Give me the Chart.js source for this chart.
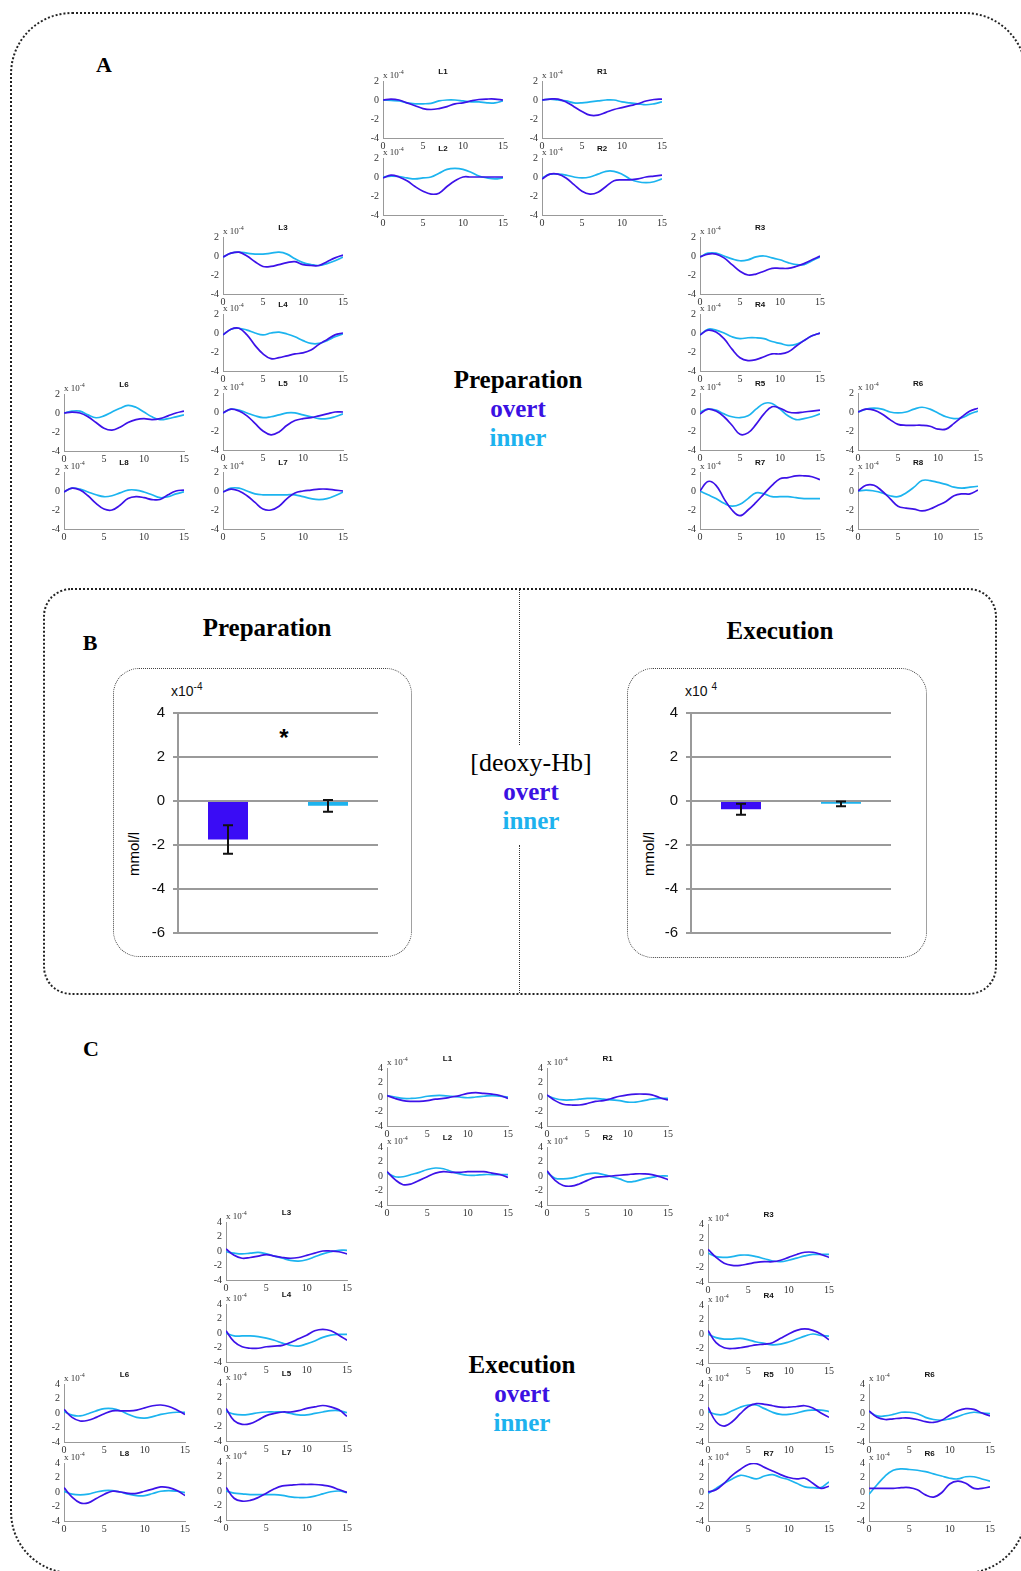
<!DOCTYPE html>
<html>
<head>
<meta charset="utf-8">
<script src="https://cdn.jsdelivr.net/npm/chart.js@4"></script>
<style>
  body { margin: 0; background: #fff; }
  #page { position: relative; width: 1021px; height: 1571px; overflow: hidden; font-family: "Liberation Serif", serif; }
  .box { position: absolute; box-sizing: border-box; }
  .t { position: absolute; transform: translate(-50%, -50%); line-height: 1; white-space: nowrap; }
  canvas { position: absolute; }
  .lbl { position: absolute; transform: translateX(-50%); font: bold 8px "Liberation Sans", Arial, sans-serif; color: #111; line-height: 1; }
  .exp { position: absolute; font: 9px "Liberation Serif", serif; color: #333; line-height: 1; white-space: nowrap; }
  .exp sup { font-size: 6px; vertical-align: 4px; line-height: 0; }
  .bexp { position: absolute; font: 14px "Liberation Sans", Arial, sans-serif; color: #111; line-height: 1; white-space: nowrap; }
  .bexp sup { font-size: 10px; vertical-align: 6px; line-height: 0; }
</style>
</head>
<body>
<div id="page">
  <div class="box" style="left:10px;top:12px;width:1017px;height:1562px;border:2px dotted #222;border-radius:62px;"></div>
  <div class="box" style="left:43px;top:588px;width:954px;height:407px;border:2px dotted #222;border-radius:28px;"></div>
  <div class="box" style="left:519px;top:590px;width:0;height:155px;border-left:1.5px dotted #333;"></div>
  <div class="box" style="left:519px;top:845px;width:0;height:148px;border-left:1.5px dotted #333;"></div>
  <div class="box" style="left:113px;top:668px;width:299px;height:289px;border:1.5px dotted #444;border-radius:26px;"></div>
  <div class="box" style="left:627px;top:668px;width:300px;height:290px;border:1.5px dotted #444;border-radius:26px;"></div>

  <div class="t" style="left:104px;top:65px;font-weight:bold;font-size:22px;">A</div>
  <div class="t" style="left:90px;top:643px;font-weight:bold;font-size:22px;">B</div>
  <div class="t" style="left:91px;top:1049px;font-weight:bold;font-size:22px;">C</div>

  <div class="t" style="left:518px;top:379px;font-weight:bold;font-size:25px;">Preparation</div>
  <div class="t" style="left:518px;top:408px;font-weight:bold;font-size:25px;color:#3b11e2;">overt</div>
  <div class="t" style="left:518px;top:437px;font-weight:bold;font-size:25px;color:#1db2ee;">inner</div>

  <div class="t" style="left:267px;top:627px;font-weight:bold;font-size:25px;">Preparation</div>
  <div class="t" style="left:780px;top:630px;font-weight:bold;font-size:25px;">Execution</div>
  <div class="t" style="left:531px;top:763px;font-size:26px;">[deoxy-Hb]</div>
  <div class="t" style="left:531px;top:791px;font-weight:bold;font-size:25px;color:#3b11e2;">overt</div>
  <div class="t" style="left:531px;top:820px;font-weight:bold;font-size:25px;color:#1db2ee;">inner</div>

  <div class="t" style="left:522px;top:1364px;font-weight:bold;font-size:25px;">Execution</div>
  <div class="t" style="left:522px;top:1393px;font-weight:bold;font-size:25px;color:#3b11e2;">overt</div>
  <div class="t" style="left:522px;top:1422px;font-weight:bold;font-size:25px;color:#1db2ee;">inner</div>

  <div class="bexp" style="left:171px;top:684px;">x10<sup>-4</sup></div>
  <div class="bexp" style="left:685px;top:684px;">x10 <sup>4</sup></div>
  <div class="t" style="left:133px;top:854px;transform:translate(-50%,-50%) rotate(-90deg);font:15px 'Liberation Sans',Arial,sans-serif;">mmol/l</div>
  <div class="t" style="left:648px;top:854px;transform:translate(-50%,-50%) rotate(-90deg);font:15px 'Liberation Sans',Arial,sans-serif;">mmol/l</div>
  <div class="t" style="left:284px;top:738px;font:bold 24px 'Liberation Sans',Arial,sans-serif;">*</div>
</div>

<script>
// time axis (s)
const secs = [0, 1, 2, 3, 4, 5, 6, 7, 8, 9, 10, 11, 12, 13, 14, 15];

// ---- A: preparation, deoxy-Hb per channel (x10^-4)
const prepOvertL1 = [0, 0.1, 0, -0.3, -0.6, -0.9, -1.0, -0.9, -0.7, -0.4, -0.3, -0.1, 0.05, 0.1, 0.1, 0];
const prepInnerL1 = [0, -0.05, -0.1, -0.3, -0.4, -0.4, -0.35, -0.1, 0, 0, -0.1, -0.2, -0.2, -0.3, -0.3, -0.1];
const prepOvertR1 = [0, 0.1, 0.1, -0.2, -0.7, -1.2, -1.6, -1.6, -1.3, -1.0, -0.8, -0.6, -0.4, -0.1, 0.05, 0.1];
const prepInnerR1 = [0, 0.1, 0, -0.1, -0.3, -0.3, -0.2, -0.1, 0, 0, -0.2, -0.3, -0.4, -0.5, -0.4, -0.2];
const prepOvertL2 = [-0.1, 0.2, 0, -0.4, -1.0, -1.5, -1.8, -1.7, -1.0, -0.4, 0, 0, 0, 0, 0, 0];
const prepInnerL2 = [0, 0.1, 0.05, -0.1, -0.2, -0.1, 0, 0.4, 0.8, 0.9, 0.8, 0.5, 0.1, -0.1, -0.2, -0.1];
const prepOvertR2 = [-0.2, 0.3, 0.3, -0.1, -0.8, -1.5, -1.8, -1.6, -1.0, -0.4, -0.3, -0.3, -0.2, 0, 0.1, 0.2];
const prepInnerR2 = [-0.1, 0.3, 0.3, 0.2, 0, -0.1, 0, 0.3, 0.6, 0.6, 0.3, -0.2, -0.5, -0.6, -0.5, -0.2];
const prepOvertL3 = [-0.1, 0.3, 0.4, 0, -0.6, -1.1, -1.1, -0.9, -0.7, -0.6, -0.9, -1.0, -1.0, -0.6, -0.2, 0.1];
const prepInnerL3 = [-0.1, 0.3, 0.4, 0.3, 0.2, 0.2, 0.3, 0.4, 0.2, -0.3, -0.7, -0.9, -1.0, -0.8, -0.5, -0.1];
const prepOvertL4 = [-0.2, 0.4, 0.5, -0.2, -1.3, -2.2, -2.7, -2.6, -2.4, -2.2, -2.1, -1.8, -1.2, -0.7, -0.2, 0];
const prepInnerL4 = [-0.2, 0.4, 0.5, 0.3, 0, -0.2, 0, 0.1, -0.1, -0.4, -0.8, -1.1, -1.1, -0.8, -0.4, -0.1];
const prepOvertL5 = [-0.1, 0.3, 0.1, -0.4, -1.2, -2.0, -2.4, -2.1, -1.4, -0.9, -0.7, -0.6, -0.4, -0.2, 0, 0];
const prepInnerL5 = [-0.1, 0.3, 0.2, -0.1, -0.4, -0.6, -0.5, -0.3, -0.1, -0.1, -0.3, -0.5, -0.7, -0.7, -0.5, -0.2];
const prepOvertL7 = [-0.1, 0.2, 0, -0.5, -1.2, -1.9, -2.0, -1.6, -0.8, -0.2, 0, 0.1, 0.2, 0.2, 0.1, 0];
const prepInnerL7 = [-0.1, 0.3, 0.3, 0, -0.3, -0.4, -0.4, -0.4, -0.4, -0.4, -0.6, -0.8, -0.9, -0.8, -0.5, -0.1];
const prepOvertL6 = [0, 0.1, 0, -0.4, -1.0, -1.6, -1.8, -1.5, -1.0, -0.7, -0.6, -0.7, -0.6, -0.3, 0, 0.2];
const prepInnerL6 = [0, 0.2, 0.2, -0.2, -0.5, -0.3, 0.1, 0.5, 0.8, 0.6, 0.1, -0.4, -0.7, -0.6, -0.4, -0.2];
const prepOvertL8 = [-0.1, 0.3, 0.1, -0.5, -1.3, -1.9, -2.0, -1.5, -0.8, -0.6, -0.7, -0.9, -0.9, -0.4, 0, 0.1];
const prepInnerL8 = [-0.1, 0.3, 0.2, -0.1, -0.4, -0.6, -0.5, -0.2, 0.1, 0.1, -0.1, -0.4, -0.7, -0.6, -0.3, -0.1];
const prepOvertR3 = [-0.1, 0.2, 0.2, -0.2, -0.9, -1.6, -2.0, -1.9, -1.6, -1.3, -1.3, -1.3, -1.1, -0.8, -0.4, 0];
const prepInnerR3 = [-0.1, 0.3, 0.3, 0, -0.3, -0.5, -0.4, -0.1, 0, -0.2, -0.4, -0.7, -0.9, -0.9, -0.5, -0.1];
const prepOvertR4 = [-0.2, 0.3, 0.1, -0.6, -1.7, -2.6, -2.9, -2.8, -2.5, -2.2, -2.2, -2.0, -1.4, -0.8, -0.3, 0];
const prepInnerR4 = [-0.2, 0.4, 0.3, 0, -0.4, -0.6, -0.5, -0.5, -0.6, -0.9, -1.1, -1.3, -1.2, -0.8, -0.3, 0];
const prepOvertR5 = [-0.2, 0.3, 0.1, -0.5, -1.4, -2.35, -2.2, -1.3, -0.2, 0.55, 0.4, 0, -0.1, 0, 0.1, 0.2];
const prepInnerR5 = [0, 0.3, 0.2, -0.2, -0.5, -0.6, -0.4, 0.3, 0.9, 0.9, 0.3, -0.4, -0.8, -0.7, -0.5, -0.2];
const prepOvertR7 = [0, 1.0, 0.6, -0.8, -2.0, -2.6, -2.0, -1.2, -0.3, 0.6, 1.3, 1.4, 1.6, 1.6, 1.5, 1.2];
const prepInnerR7 = [0, -0.4, -0.8, -1.3, -1.6, -1.4, -0.8, -0.2, -0.3, -0.6, -0.6, -0.6, -0.7, -0.8, -0.8, -0.8];
const prepOvertR6 = [0, 0.3, 0.2, -0.2, -0.8, -1.3, -1.4, -1.4, -1.4, -1.5, -1.8, -1.8, -1.2, -0.5, 0.1, 0.4];
const prepInnerR6 = [0, 0.3, 0.4, 0.3, 0, -0.1, 0, 0.3, 0.5, 0.3, -0.1, -0.5, -0.7, -0.6, -0.2, 0.1];
const prepOvertR8 = [0, 0.6, 0.6, 0, -0.8, -1.6, -1.8, -1.9, -2.1, -1.9, -1.5, -1.1, -0.5, -0.3, -0.3, 0.1];
const prepInnerR8 = [0, 0.1, 0, -0.2, -0.5, -0.6, -0.2, 0.4, 1.1, 1.1, 0.9, 0.7, 0.4, 0.3, 0.4, 0.5];

// ---- C: execution
const execOvertL1 = [0.2, -0.2, -0.5, -0.6, -0.6, -0.5, -0.3, -0.2, 0, 0.2, 0.5, 0.6, 0.5, 0.4, 0.2, -0.2];
const execInnerL1 = [0.2, 0, -0.2, -0.2, -0.1, 0.1, 0.2, 0.2, 0.1, 0, -0.1, 0, 0.1, 0.2, 0.1, 0];
const execOvertR1 = [0.3, -0.5, -1.0, -1.1, -1.1, -0.9, -0.6, -0.5, -0.2, 0.1, 0.3, 0.4, 0.4, 0.3, -0.1, -0.4];
const execInnerR1 = [0.2, -0.2, -0.4, -0.4, -0.3, -0.2, -0.2, -0.3, -0.4, -0.5, -0.7, -0.7, -0.5, -0.3, -0.2, -0.2];
const execOvertL2 = [0.6, -0.5, -1.2, -1.1, -0.6, -0.1, 0.4, 0.6, 0.5, 0.5, 0.6, 0.6, 0.6, 0.4, 0.2, -0.2];
const execInnerL2 = [0.4, -0.1, -0.1, 0.2, 0.5, 0.9, 1.1, 1.0, 0.6, 0.3, 0.1, 0.1, 0.2, 0.2, 0.2, 0.2];
const execOvertR2 = [0.7, -0.6, -1.3, -1.4, -1.1, -0.6, -0.2, -0.1, 0, 0.1, 0.2, 0.3, 0.3, 0.2, -0.1, -0.5];
const execInnerR2 = [0.5, -0.3, -0.4, -0.3, 0, 0.3, 0.4, 0.2, -0.1, -0.4, -0.8, -0.7, -0.4, -0.2, 0, 0];
const execOvertL3 = [0.3, -0.6, -1.0, -0.9, -0.7, -0.5, -0.7, -0.9, -1.0, -0.9, -0.6, -0.3, 0, 0, -0.1, -0.4];
const execInnerL3 = [-0.1, -0.3, -0.4, -0.3, -0.2, -0.4, -0.7, -1.0, -1.3, -1.4, -1.2, -0.8, -0.4, -0.1, 0.1, 0.1];
const execOvertL4 = [0.3, -1.2, -1.9, -2.1, -2.1, -1.9, -1.8, -1.7, -1.3, -0.8, -0.3, 0.3, 0.5, 0.3, -0.3, -1.0];
const execInnerL4 = [0, -0.4, -0.4, -0.4, -0.5, -0.7, -1.0, -1.4, -1.7, -1.8, -1.5, -1.1, -0.6, -0.3, -0.2, -0.2];
const execOvertL5 = [0.5, -1.2, -1.7, -1.6, -1.1, -0.5, -0.2, 0, 0, 0.2, 0.5, 0.7, 0.9, 0.7, 0.3, -0.6];
const execInnerL5 = [0.1, -0.3, -0.4, -0.3, -0.1, 0, 0, 0, -0.2, -0.4, -0.4, -0.2, 0, 0.2, 0.2, -0.1];
const execOvertL7 = [0.5, -1.0, -1.4, -1.3, -0.9, -0.3, 0.3, 0.7, 0.8, 0.9, 0.9, 0.9, 0.8, 0.6, 0.2, -0.2];
const execInnerL7 = [0, -0.3, -0.4, -0.5, -0.5, -0.5, -0.5, -0.6, -0.8, -0.9, -0.9, -0.7, -0.4, -0.1, 0, -0.2];
const execOvertL6 = [0.5, -0.6, -1.1, -1.0, -0.6, -0.1, 0.3, 0.3, 0.3, 0.4, 0.7, 1.0, 1.1, 0.9, 0.4, -0.2];
const execInnerL6 = [0.2, -0.3, -0.4, -0.1, 0.3, 0.6, 0.6, 0.3, -0.2, -0.6, -0.7, -0.5, -0.2, 0, 0.1, 0.1];
const execOvertL8 = [0.6, -0.7, -1.5, -1.5, -0.9, -0.3, 0.1, 0, -0.2, -0.2, 0.1, 0.4, 0.7, 0.6, 0.2, -0.5];
const execInnerL8 = [0.1, -0.3, -0.4, -0.3, 0, 0.2, 0.2, 0, -0.3, -0.5, -0.5, -0.2, 0.1, 0.2, 0.1, -0.1];
const execOvertR3 = [0.5, -0.6, -1.4, -1.7, -1.7, -1.5, -1.3, -1.2, -1.2, -1.0, -0.6, -0.2, 0.1, 0.1, -0.2, -0.6];
const execInnerR3 = [0, -0.5, -0.6, -0.5, -0.3, -0.3, -0.5, -0.8, -1.1, -1.2, -1.0, -0.7, -0.4, -0.2, -0.2, -0.2];
const execOvertR4 = [0.5, -1.2, -1.9, -2.0, -1.9, -1.7, -1.5, -1.4, -1.2, -0.6, 0, 0.5, 0.7, 0.5, 0, -0.8];
const execInnerR4 = [0, -0.5, -0.7, -0.7, -0.6, -0.8, -1.1, -1.3, -1.5, -1.4, -1.1, -0.7, -0.3, 0, -0.2, -0.3];
const execOvertR5 = [0.8, -1.2, -1.8, -1.2, -0.1, 0.9, 1.3, 1.2, 1.0, 0.8, 0.8, 0.9, 1.0, 0.7, 0, -0.6];
const execInnerR5 = [0.2, -0.2, -0.2, 0.3, 0.8, 1.1, 1.1, 0.6, 0.1, -0.2, -0.2, 0, 0.3, 0.4, 0.4, 0.2];
const execOvertR7 = [0, 0.3, 1.2, 2.3, 3.1, 3.8, 3.9, 3.4, 2.9, 2.4, 2.0, 1.8, 1.9, 1.2, 0.5, 0.8];
const execInnerR7 = [-0.2, 0.5, 1.2, 1.8, 2.3, 2.1, 1.8, 2.2, 2.4, 2.0, 1.7, 1.2, 0.7, 0.6, 0.6, 1.4];
const execOvertR6 = [0.3, -0.6, -0.9, -0.8, -0.7, -0.7, -0.9, -1.2, -1.3, -1.0, -0.3, 0.3, 0.6, 0.5, 0, -0.4];
const execInnerR6 = [0.2, -0.4, -0.4, -0.2, 0.1, 0.1, -0.1, -0.6, -0.9, -1.0, -0.8, -0.5, -0.1, 0.1, 0, -0.1];
const execOvertR8 = [0.5, 0.5, 0.5, 0.5, 0.6, 0.6, 0.3, -0.4, -0.7, -0.1, 1.1, 1.5, 1.2, 0.5, 0.5, 0.7];
const execInnerR8 = [-0.3, 1.0, 2.2, 3.0, 3.2, 3.1, 3.0, 2.8, 2.5, 2.2, 1.9, 1.8, 2.1, 2.1, 1.8, 1.5];

// ---- B: mean deoxy-Hb (x10^-4 mmol/l) with error
const barGroups = ["overt", "inner"];
const prepMeans = [-1.75, -0.22];
const prepErrors = [0.65, 0.27];
const execMeans = [-0.37, -0.13];
const execErrors = [0.25, 0.11];

const overtLine = "#3d12e8";
const innerLine = "#1cb4ef";
const overtBar = "#3a0cf5";
const innerBar = "#1db3ee";

const page = document.getElementById("page");

// label, plot left, plot top, overt, inner
const prepPlots = [
  ["L1", 383, 81, prepOvertL1, prepInnerL1],
  ["R1", 542, 81, prepOvertR1, prepInnerR1],
  ["L2", 383, 158, prepOvertL2, prepInnerL2],
  ["R2", 542, 158, prepOvertR2, prepInnerR2],
  ["L3", 223, 237, prepOvertL3, prepInnerL3],
  ["L4", 223, 314, prepOvertL4, prepInnerL4],
  ["L5", 223, 393, prepOvertL5, prepInnerL5],
  ["L7", 223, 472, prepOvertL7, prepInnerL7],
  ["L6", 64, 394, prepOvertL6, prepInnerL6],
  ["L8", 64, 472, prepOvertL8, prepInnerL8],
  ["R3", 700, 237, prepOvertR3, prepInnerR3],
  ["R4", 700, 314, prepOvertR4, prepInnerR4],
  ["R5", 700, 393, prepOvertR5, prepInnerR5],
  ["R7", 700, 472, prepOvertR7, prepInnerR7],
  ["R6", 858, 393, prepOvertR6, prepInnerR6],
  ["R8", 858, 472, prepOvertR8, prepInnerR8],
];
const execPlots = [
  ["L1", 387, 1068, execOvertL1, execInnerL1],
  ["R1", 547, 1068, execOvertR1, execInnerR1],
  ["L2", 387, 1147, execOvertL2, execInnerL2],
  ["R2", 547, 1147, execOvertR2, execInnerR2],
  ["L3", 226, 1222, execOvertL3, execInnerL3],
  ["L4", 226, 1304, execOvertL4, execInnerL4],
  ["L5", 226, 1383, execOvertL5, execInnerL5],
  ["L7", 226, 1462, execOvertL7, execInnerL7],
  ["L6", 64, 1384, execOvertL6, execInnerL6],
  ["L8", 64, 1463, execOvertL8, execInnerL8],
  ["R3", 708, 1224, execOvertR3, execInnerR3],
  ["R4", 708, 1305, execOvertR4, execInnerR4],
  ["R5", 708, 1384, execOvertR5, execInnerR5],
  ["R7", 708, 1463, execOvertR7, execInnerR7],
  ["R6", 869, 1384, execOvertR6, execInnerR6],
  ["R6", 869, 1463, execOvertR8, execInnerR8],
];

function addText(cls, html, left, top) {
  const d = document.createElement("div");
  d.className = cls;
  d.innerHTML = html;
  d.style.left = left + "px";
  d.style.top = top + "px";
  page.appendChild(d);
}

function smallPlot(p, w, h, yMin, yMax) {
  const [label, left, top, overt, inner] = p;
  const padL = 20, padT = 6, padR = 10, padB = 15;
  const cv = document.createElement("canvas");
  cv.width = w + padL + padR;
  cv.height = h + padT + padB;
  cv.style.left = left - padL + "px";
  cv.style.top = top - padT + "px";
  page.appendChild(cv);
  const tickFont = { family: "Liberation Serif", size: 10 };
  new Chart(cv, {
    type: "line",
    data: {
      datasets: [
        { data: secs.map((x, i) => ({ x: x, y: overt[i] })), borderColor: overtLine },
        { data: secs.map((x, i) => ({ x: x, y: inner[i] })), borderColor: innerLine },
      ],
    },
    options: {
      responsive: false,
      animation: false,
      devicePixelRatio: 1,
      layout: { padding: { top: padT, right: padR, left: 0, bottom: 0 } },
      plugins: { legend: { display: false }, tooltip: { enabled: false } },
      elements: { point: { radius: 0 }, line: { tension: 0.4, borderWidth: 1.7 } },
      scales: {
        x: {
          type: "linear", min: 0, max: 15,
          grid: { display: false, drawTicks: false },
          border: { color: "#999" },
          ticks: { stepSize: 5, autoSkip: false, font: tickFont, color: "#333", padding: 2, maxRotation: 0 },
          afterFit: (s) => { s.height = padB; s.paddingLeft = 0; s.paddingRight = 0; },
        },
        y: {
          min: yMin, max: yMax,
          grid: { display: false, drawTicks: false },
          border: { color: "#999" },
          ticks: { stepSize: 2, autoSkip: false, font: tickFont, color: "#333", padding: 4 },
          afterFit: (s) => { s.width = padL; s.paddingTop = 0; s.paddingBottom = 0; },
        },
      },
    },
  });
  addText("lbl", label, left + w / 2, top - 13);
  addText("exp", "x 10<sup>-4</sup>", left, top - 10);
}

prepPlots.forEach((p) => smallPlot(p, 120, 57, -4, 2));
execPlots.forEach((p) => smallPlot(p, 121, 58, -4, 4));

const errBars = {
  id: "errBars",
  afterDatasetsDraw(chart, args, opts) {
    const ctx = chart.ctx;
    const meta = chart.getDatasetMeta(0);
    const y = chart.scales.y;
    const vals = chart.data.datasets[0].data;
    ctx.save();
    ctx.strokeStyle = "#111";
    ctx.lineWidth = 2;
    opts.errors.forEach((e, i) => {
      const bx = meta.data[i].x;
      const yt = y.getPixelForValue(vals[i] + e);
      const yb = y.getPixelForValue(vals[i] - e);
      ctx.beginPath();
      ctx.moveTo(bx, yt); ctx.lineTo(bx, yb);
      ctx.moveTo(bx - 5, yt); ctx.lineTo(bx + 5, yt);
      ctx.moveTo(bx - 5, yb); ctx.lineTo(bx + 5, yb);
      ctx.stroke();
    });
    ctx.restore();
  },
};

function barPlot(left, top, means, errors) {
  const cv = document.createElement("canvas");
  cv.width = 270;
  cv.height = 245;
  cv.style.left = left + "px";
  cv.style.top = top + "px";
  page.appendChild(cv);
  new Chart(cv, {
    type: "bar",
    data: {
      labels: barGroups,
      datasets: [{ data: means, backgroundColor: [overtBar, innerBar], categoryPercentage: 1, barPercentage: 0.4 }],
    },
    plugins: [errBars],
    options: {
      responsive: false,
      animation: false,
      devicePixelRatio: 1,
      layout: { padding: { top: 13, right: 12, bottom: 12, left: 0 } },
      plugins: { legend: { display: false }, tooltip: { enabled: false }, errBars: { errors: errors } },
      scales: {
        x: { display: false },
        y: {
          min: -6, max: 4,
          grid: { color: "#9a9a9a", lineWidth: 2, tickLength: 5 },
          border: { color: "#9a9a9a", width: 2 },
          ticks: { stepSize: 2, font: { family: "Liberation Sans", size: 15 }, color: "#111", padding: 8 },
          afterFit: (s) => { s.width = 58; s.paddingTop = 0; s.paddingBottom = 0; },
        },
      },
    },
  });
}

barPlot(120, 700, prepMeans, prepErrors);
barPlot(633, 700, execMeans, execErrors);
</script>
</body>
</html>
